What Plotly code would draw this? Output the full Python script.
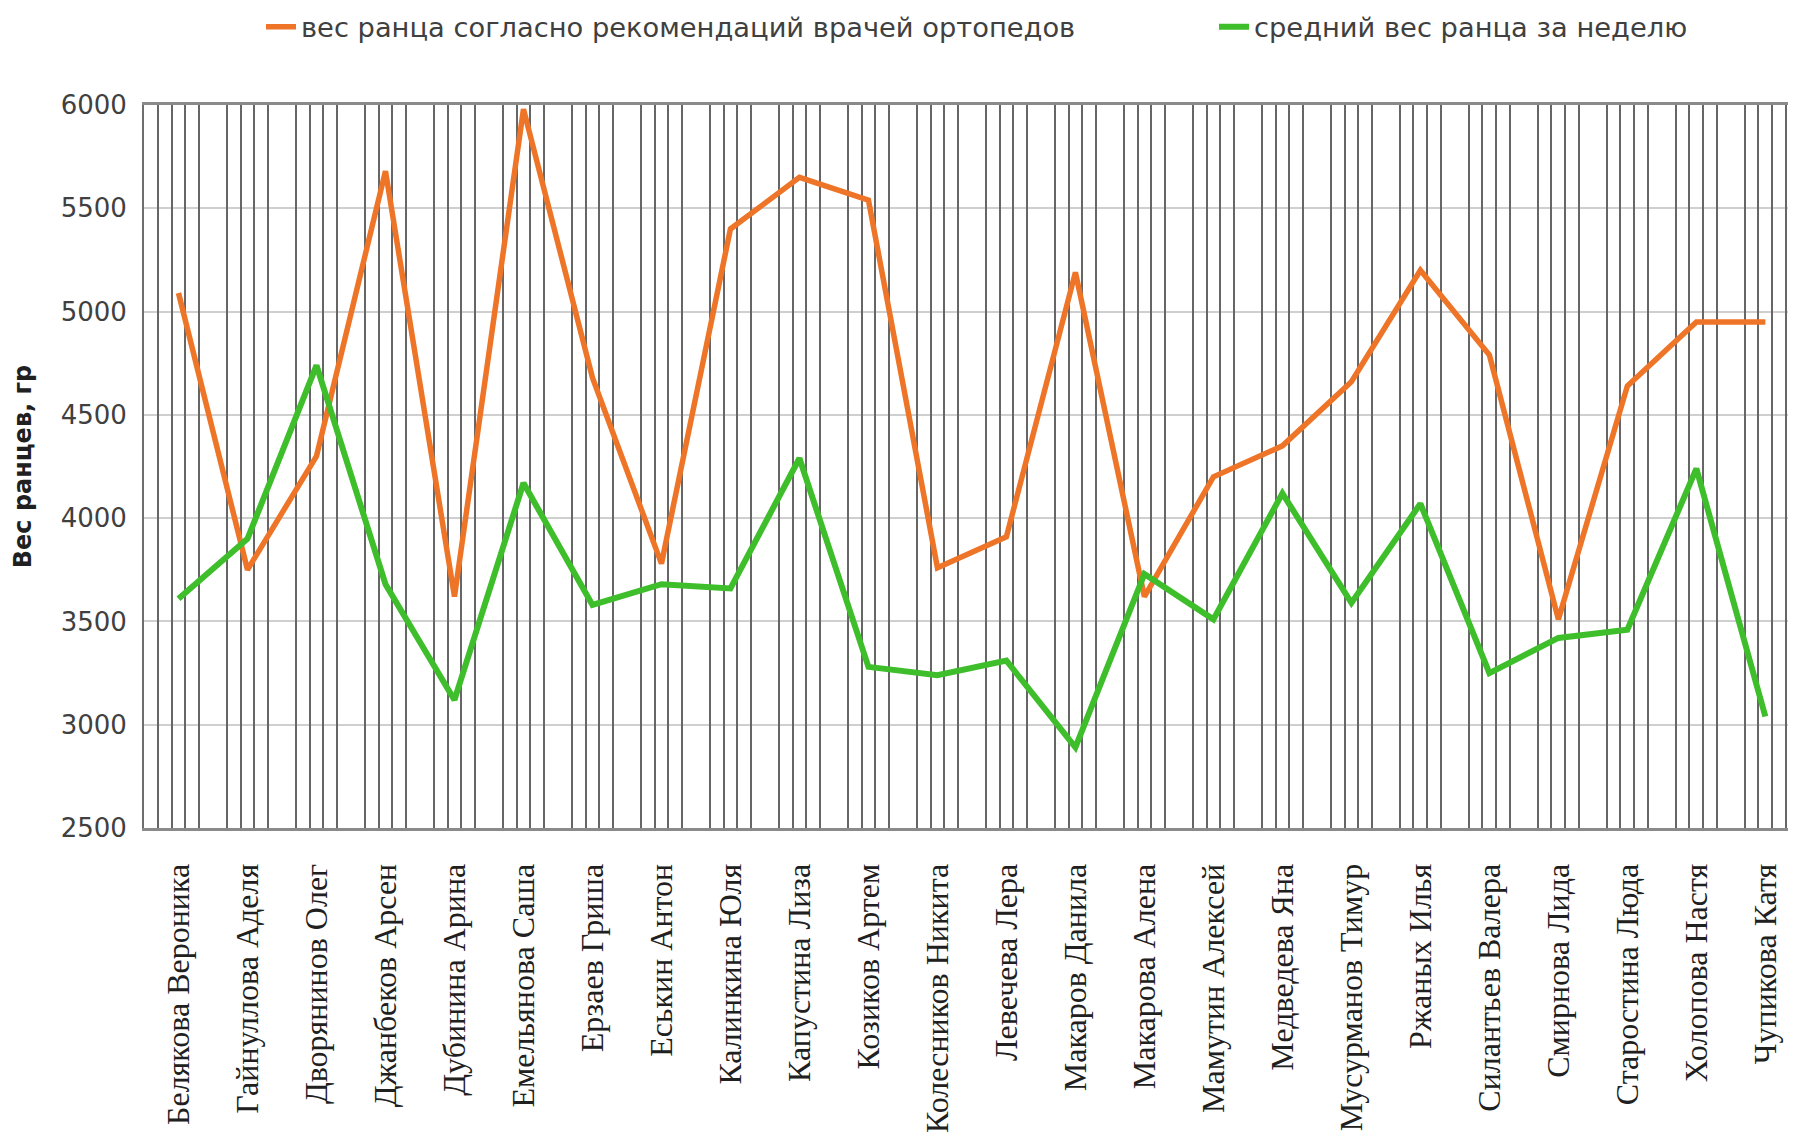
import plotly.graph_objects as go

names = ["Белякова Вероника", "Гайнуллова Аделя", "Дворянинов Олег", "Джанбеков Арсен",
         "Дубинина Арина", "Емельянова Саша", "Ерзаев Гриша", "Еськин Антон",
         "Калинкина Юля", "Капустина Лиза", "Козиков Артем", "Колесников Никита",
         "Левечева Лера", "Макаров Данила", "Макарова Алена", "Мамутин Алексей",
         "Медведева Яна", "Мусурманов Тимур", "Ржаных Илья", "Силантьев Валера",
         "Смирнова Лида", "Старостина Люда", "Холопова Настя", "Чупикова Катя"]

recommended = [5090, 3750, 4300, 5680, 3620, 5980, 4680, 3780, 5400, 5650, 5540, 3760,
               3910, 5190, 3620, 4200, 4350, 4660, 5200, 4790, 3510, 4640, 4950, 4950]

average = [3610, 3900, 4740, 3680, 3120, 4170, 3580, 3680, 3660, 4290, 3280, 3240,
           3310, 2890, 3730, 3510, 4120, 3590, 4070, 3250, 3420, 3460, 4240, 3040]

series_names = ["вес ранца согласно рекомендаций врачей ортопедов", "средний вес ранца за неделю"]
y_title = "Вес ранцев, гр"
y_ticks = [2500, 3000, 3500, 4000, 4500, 5000, 5500, 6000]

W, H = 1796, 1134
xr = [-0.5, 23.56]

fig = go.Figure()
fig.add_trace(go.Scatter(x=names, y=recommended, mode="lines", name=series_names[0],
                         line=dict(color="#EE7427", width=5.5), legend="legend"))
fig.add_trace(go.Scatter(x=names, y=average, mode="lines", name=series_names[1],
                         line=dict(color="#3DBE2A", width=6), legend="legend2"))
# helper axis for the minor vertical grid pattern
grid_vals = [i + d for i in range(len(names)) for d in (-0.3, -0.1, 0.1, 0.3)]
fig.add_trace(go.Scatter(x=[], y=[], xaxis="x2", showlegend=False, hoverinfo="skip"))

leg_font = dict(family="DejaVu Sans", size=27.3, color="#404040")

fig.update_layout(
    width=W, height=H,
    margin=dict(l=136, r=0, t=97, b=314, autoexpand=False),
    paper_bgcolor="white", plot_bgcolor="white",
    font=dict(family="DejaVu Sans", size=26, color="#404040"),
    showlegend=True,
    legend=dict(orientation="h", xref="container", yref="container",
                x=253 / W, y=1 - 19 / H, xanchor="left", yanchor="middle",
                font=leg_font, itemwidth=30),
    legend2=dict(orientation="h", xref="container", yref="container",
                 x=1206 / W, y=1 - 19 / H, xanchor="left", yanchor="middle",
                 font=leg_font, itemwidth=30),
    xaxis=dict(type="category", range=xr, showgrid=False, zeroline=False,
               tickangle=-90, ticks="outside", ticklen=20, tickcolor="rgba(0,0,0,0)",
               tickfont=dict(family="Liberation Serif", size=32, color="#202020"),
               showline=True, linecolor="#8a8a8a", linewidth=3, mirror=True),
    xaxis2=dict(overlaying="x", anchor="y", range=xr, tickmode="array", tickvals=grid_vals,
                showticklabels=False, ticks="", showgrid=True, gridcolor="#666666",
                gridwidth=1.5, zeroline=False, showline=False),
    yaxis=dict(range=[2500, 6000], tickmode="array", tickvals=y_ticks,
               showgrid=True, gridcolor="#cfcfcf", gridwidth=2, zeroline=False,
               showline=True, linecolor="#6e6e6e", linewidth=2,
               ticks="outside", ticklen=10, tickcolor="rgba(0,0,0,0)",
               tickfont=dict(family="DejaVu Sans", size=26, color="#404040"),
               title=dict(text="<b>" + y_title + "</b>", standoff=22,
                          font=dict(family="DejaVu Sans", size=24, color="#202020"))),
)

fig.write_html("out.html")
